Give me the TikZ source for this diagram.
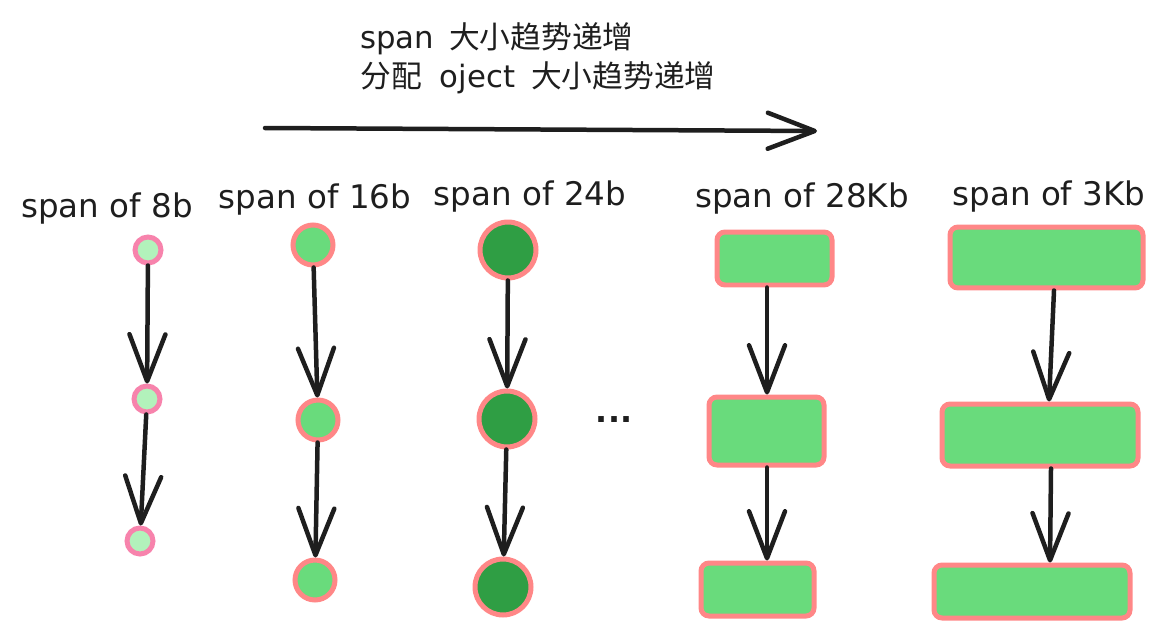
\documentclass[tikz,border=0pt]{standalone}
\usepackage{fontspec}
\setmainfont{DejaVu Sans}
\newfontfamily\cjk{Noto Sans CJK SC}
\usetikzlibrary{arrows.meta}
\definecolor{ink}{HTML}{1E1E1E}
\definecolor{pinkA}{HTML}{F783AC}
\definecolor{redA}{HTML}{FF8787}
\definecolor{lgreen}{HTML}{B2F2BB}
\definecolor{mgreen}{HTML}{69DB7C}
\definecolor{dgreen}{HTML}{2F9E44}
\begin{document}
\begin{tikzpicture}[x=0.02cm,y=-0.02cm,
  barb/.style={draw=ink, line width=0.09cm, line cap=round,
    -{Straight Barb[length=0.94cm,width=0.72cm,round]}},
  lbl/.style={font=\fontsize{18.5}{21}\selectfont, text=ink, anchor=base, inner sep=0},
  ttl/.style={font=\fontsize{17.5}{20}\selectfont, text=ink, anchor=base west, inner sep=0},
  dotA/.style={circle, draw=pinkA, fill=lgreen, line width=0.1cm, inner sep=0, minimum size=0.52cm},
  dotB/.style={circle, draw=redA, fill=mgreen, line width=0.1cm, inner sep=0, minimum size=0.8cm},
  dotC/.style={circle, draw=redA, fill=dgreen, line width=0.1cm, inner sep=0, minimum size=1.12cm},
  blk/.style={rectangle, rounded corners=0.16cm, draw=redA, fill=mgreen, line width=0.1cm, inner sep=0}
]
\useasboundingbox (0,0) rectangle (1165,639);

% title
\node[ttl] (t1) at (360,48) {span\hspace{0.3cm}{\cjk 大小趋势递增}};
\node[ttl] (t2) at (360,87) {{\cjk 分配}\hspace{0.36cm}oject\hspace{0.32cm}{\cjk 大小趋势递增}};

% big arrow
\coordinate (bs) at (265,128);
\coordinate (be) at (817,131);
\draw[barb] (bs) -- (be);

% labels
\node[lbl] (l1) at (107,217) {span of 8b};
\node[lbl] (l2) at (315,208) {span of 16b};
\node[lbl] (l3) at (530,205) {span of 24b};
\node[lbl] (l4) at (802,207) {span of 28Kb};
\node[lbl] (l5) at (1049,205) {span of 3Kb};

% column 1
\node[dotA] (a1) at (148,250) {};
\node[dotA] (a2) at (147,399) {};
\node[dotA] (a3) at (140,541) {};
\draw[barb] (a1) -- (a2);
\draw[barb] (a2) -- (a3);

% column 2
\node[dotB] (b1) at (313,245) {};
\node[dotB] (b2) at (318,420) {};
\node[dotB] (b3) at (315,580) {};
\draw[barb] (b1) -- (b2);
\draw[barb] (b2) -- (b3);

% column 3
\node[dotC] (c1) at (508,250) {};
\node[dotC] (c2) at (507,419) {};
\node[dotC] (c3) at (503,587) {};
\draw[barb] (c1) -- (c2);
\draw[barb] (c2) -- (c3);

% dots
\node[font=\bfseries\fontsize{18}{21}\selectfont, text=ink, inner sep=0] (dd) at (614,420) {...};

% column 4
\node[blk, minimum width=2.30cm, minimum height=1.06cm] (d1) at (774.5,258.5) {};
\node[blk, minimum width=2.30cm, minimum height=1.36cm] (d2) at (766.5,431) {};
\node[blk, minimum width=2.26cm, minimum height=1.06cm] (d3) at (757.5,589.5) {};
\coordinate (x4) at (767,0);
\draw[barb] (d1.south -| x4) -- (d2.north -| x4);
\draw[barb] (d2.south -| x4) -- (d3.north -| x4);

% column 5
\node[blk, minimum width=3.86cm, minimum height=1.22cm] (e1) at (1046.5,257.5) {};
\node[blk, minimum width=3.92cm, minimum height=1.24cm] (e2) at (1040,435) {};
\node[blk, minimum width=3.92cm, minimum height=1.06cm] (e3) at (1032,591.5) {};
\coordinate (x5a) at (1054,0);
\coordinate (x5b) at (1049,0);
\coordinate (x5c) at (1051,0);
\coordinate (x5d) at (1050,0);
\draw[barb] (e1.south -| x5a) -- (e2.north -| x5b);
\draw[barb] (e2.south -| x5c) -- (e3.north -| x5d);
\end{tikzpicture}
\end{document}
